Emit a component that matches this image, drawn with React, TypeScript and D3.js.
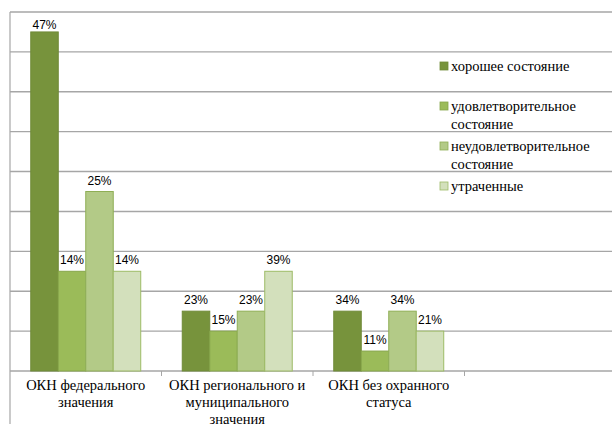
import React from "react";
import * as d3 from "d3";

const categories = ["fed", "reg", "none", "empty"];
const categoryLines: string[][] = [
  ["ОКН федерального", "значения"],
  ["ОКН регионального и", "муниципального", "значения"],
  ["ОКН без охранного", "статуса"],
  [],
];
const seriesNames = [
  "хорошее состояние",
  "удовлетворительное состояние",
  "неудовлетворительное состояние",
  "утраченные",
];
const legendLines: string[][] = [
  ["хорошее состояние"],
  ["удовлетворительное", "состояние"],
  ["неудовлетворительное", "состояние"],
  ["утраченные"],
];
const seriesColors = ["#77933c", "#9bbb59", "#b3ca87", "#d3e0bc"];
const seriesStroke = ["#6f8a38", "#86a64a", "#8fae55", "#9dbb66"];
// values per category (counts), labels in percent
const goodValues = [17, 3, 3];
const satisfValues = [5, 2, 1];
const unsatisfValues = [9, 3, 3];
const lostValues = [5, 5, 2];
const goodLabels = ["47%", "23%", "34%"];
const satisfLabels = ["14%", "15%", "11%"];
const unsatisfLabels = ["25%", "23%", "34%"];
const lostLabels = ["14%", "39%", "21%"];
const yTicks = [0, 2, 4, 6, 8, 10, 12, 14, 16, 18];

const W = 612;
const H = 424;
const left = 10;
const right = 616;
const top = 12;
const bottom = 371;

export default function App() {
  const seriesValues = [goodValues, satisfValues, unsatisfValues, lostValues];
  const seriesLabels = [goodLabels, satisfLabels, unsatisfLabels, lostLabels];
  const x0 = d3.scaleBand<string>().domain(categories).range([left, right]).padding(0);
  const x1 = d3
    .scaleBand<string>()
    .domain(seriesNames)
    .range([0, x0.bandwidth()])
    .paddingInner(0)
    .paddingOuter(0.755);
  const y = d3.scaleLinear().domain([0, 18]).range([bottom, top]);
  const grid = "#a6a6a6";
  const serifStyle = { fontFamily: "Tinos", fontSize: "14.5px" };
  return (
    <div style={{ position: "absolute", left: 0, top: 0 }}>
      <svg width={W} height={H}>
        <rect x={0} y={0} width={W} height={H} fill="#fff" />
        {yTicks.map((t) => (
          <line
            key={t}
            x1={left}
            x2={W}
            y1={y(t)}
            y2={y(t)}
            stroke={grid}
            strokeWidth={1.4}
          />
        ))}
        <line x1={left} x2={left} y1={top} y2={H} stroke={grid} strokeWidth={1.2} />
        {categories.slice(1).map((c) => (
          <line
            key={c}
            x1={x0(c)!}
            x2={x0(c)!}
            y1={bottom}
            y2={bottom + 5}
            stroke={grid}
            strokeWidth={1}
          />
        ))}
        {seriesNames.map((s, si) =>
          seriesValues[si].map((v, ci) => {
            const bx = x0(categories[ci])! + x1(s)!;
            const by = y(v);
            return (
              <rect
                key={s + ci}
                x={bx}
                y={by}
                width={x1.bandwidth()}
                height={bottom - by}
                fill={seriesColors[si]}
                stroke={seriesStroke[si]}
                strokeWidth={1}
              />
            );
          })
        )}
        {seriesNames.map((s, si) =>
          seriesValues[si].map((v, ci) => {
            const bx = x0(categories[ci])! + x1(s)! + x1.bandwidth() / 2;
            const ly = Math.max(y(v) - 7, top + 17);
            return (
              <text
                key={"l" + s + ci}
                x={bx}
                y={ly}
                textAnchor="middle"
                style={{ fontFamily: "Liberation Sans", fontSize: "12px" }}
              >
                {seriesLabels[si][ci]}
              </text>
            );
          })
        )}
        {categories.map((c, ci) =>
          categoryLines[ci].map((line, li) => (
            <text
              key={"c" + ci + li}
              x={x0(c)! + x0.bandwidth() / 2}
              y={390 + li * 17}
              textAnchor="middle"
              style={serifStyle}
            >
              {line}
            </text>
          ))
        )}
        {seriesNames.map((s, si) => {
          const base = 71 + si * 40;
          return (
            <g key={"lg" + s}>
              <rect
                x={440}
                y={base - 9}
                width={8}
                height={8}
                fill={seriesColors[si]}
                stroke={seriesStroke[si]}
                strokeWidth={0.8}
              />
              {legendLines[si].map((line, li) => (
                <text key={li} x={451} y={base + li * 18} style={serifStyle}>
                  {line}
                </text>
              ))}
            </g>
          );
        })}
      </svg>
    </div>
  );
}
